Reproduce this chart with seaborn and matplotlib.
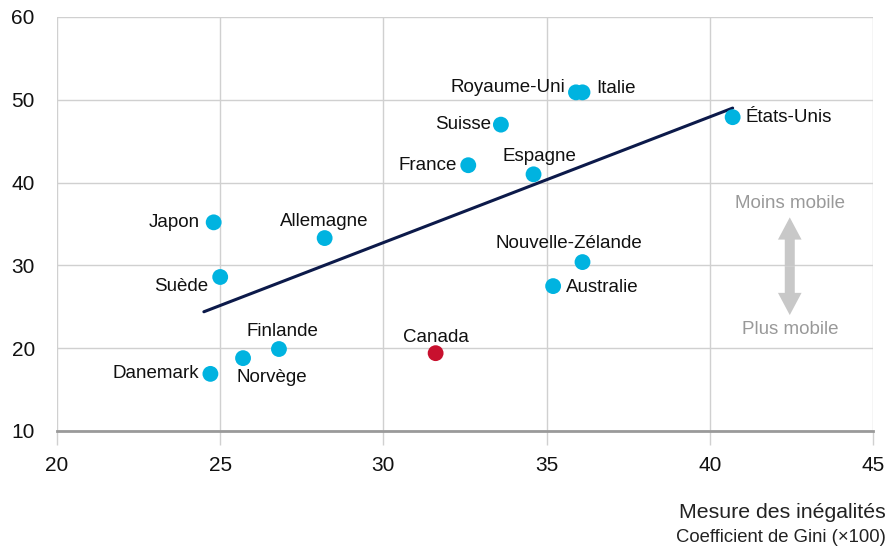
import numpy as np
import pandas as pd
import matplotlib
matplotlib.use("Agg")
import matplotlib.pyplot as plt
import seaborn as sns

# Données
pays = ["Japon", "Suède", "Danemark", "Norvège", "Finlande", "Allemagne",
        "Canada", "France", "Suisse", "Espagne", "Royaume-Uni", "Italie",
        "Australie", "Nouvelle-Zélande", "États-Unis"]
gini = [24.8, 25.0, 24.7, 25.7, 26.8, 28.2, 31.6, 32.6, 33.6, 34.6,
        35.9, 36.1, 35.2, 36.1, 40.7]
mobilite = [35.2, 28.6, 16.9, 18.8, 19.9, 33.3, 19.4, 42.1, 47.0, 41.0,
            50.9, 50.9, 27.5, 30.4, 47.9]
trend_x = [24.5, 40.7]
trend_y = [24.4, 49.0]

x_ticks = [20, 25, 30, 35, 40, 45]
y_ticks = [10, 20, 30, 40, 50, 60]

# offsets des étiquettes (pixels) et alignement
label_pos = {
    "Japon": (-14, 0, "right"), "Suède": (-12, -10, "right"),
    "Danemark": (-11, 0, "right"), "Norvège": (-7, -19, "left"),
    "Finlande": (3, 18, "center"), "Allemagne": (0, 17, "center"),
    "Canada": (0, 16, "center"), "France": (-11, 0, "right"),
    "Suisse": (-10, 0, "right"), "Espagne": (6, 18, "center"),
    "Royaume-Uni": (-11, 5, "right"), "Italie": (14, 4, "left"),
    "Australie": (13, -1, "left"), "Nouvelle-Zélande": (-14, 19, "center"),
    "États-Unis": (13, 0, "left"),
}

df = pd.DataFrame({"pays": pays, "gini": gini, "mobilite": mobilite})
df["groupe"] = np.where(df["pays"] == "Canada", "Canada", "Autres")

sns.set_theme(style="whitegrid")
plt.rcParams["font.family"] = ["Liberation Sans", "DejaVu Sans"]

fig = plt.figure(figsize=(8.92, 5.48), dpi=100)
ax = fig.add_axes([57 / 892, 1 - 431 / 548, (873 - 57) / 892, (431 - 17) / 548])

sns.lineplot(x=trend_x, y=trend_y, ax=ax, color="#0c1a4a", lw=2.2, zorder=3)
sns.scatterplot(data=df, x="gini", y="mobilite", hue="groupe",
                palette={"Autres": "#00b3e0", "Canada": "#c8102e"},
                s=130, linewidth=0, ax=ax, legend=False, zorder=4)

for p, x, y in zip(pays, gini, mobilite):
    dx, dy, ha = label_pos[p]
    ax.annotate(p, (x, y), xytext=(dx, dy), textcoords="offset pixels",
                ha=ha, va="center", fontsize=13.5, color="#111111", zorder=5)

# flèche de mobilité (deux flèches pleines depuis le centre)
arrow_x, arrow_mid = 42.45, 29.9
for y_end in (35.8, 24.0):
    ax.annotate("", xy=(arrow_x, y_end), xytext=(arrow_x, arrow_mid),
                arrowprops=dict(arrowstyle="simple,head_length=0.8,head_width=0.85,tail_width=0.36",
                                fc="#c8c8c8", ec="none", lw=0, shrinkA=0, shrinkB=0,
                                mutation_scale=20))
ax.text(arrow_x, 37.5, "Moins mobile", ha="center", va="center",
        fontsize=13.5, color="#999999")
ax.text(arrow_x, 22.2, "Plus mobile", ha="center", va="center",
        fontsize=13.5, color="#999999")

ax.set_xlim(20, 45)
ax.set_ylim(10, 60)
ax.set_xticks(x_ticks)
ax.set_yticks(y_ticks)
ax.set_xlabel("")
ax.set_ylabel("")
ax.grid(True, color="#d0d0d0", lw=1)
ax.set_axisbelow(True)
for side in ["left", "right", "top"]:
    ax.spines[side].set_visible(False)
ax.spines["bottom"].set_color("#9a9a9a")
ax.spines["bottom"].set_linewidth(2)
ax.tick_params(axis="x", length=10, width=1, color="#d0d0d0", pad=8,
               labelsize=15, labelcolor="#111111", bottom=True)
ax.tick_params(axis="y", length=0, pad=16, labelsize=15, labelcolor="#111111")

fig.text(886 / 892, 1 - 513 / 548, "Mesure des inégalités", ha="right",
         va="center", fontsize=15.3, color="#222222")
fig.text(886 / 892, 1 - 537 / 548, "Coefficient de Gini (×100)", ha="right",
         va="center", fontsize=13.3, color="#222222")

fig.savefig("out.png", dpi=100)
